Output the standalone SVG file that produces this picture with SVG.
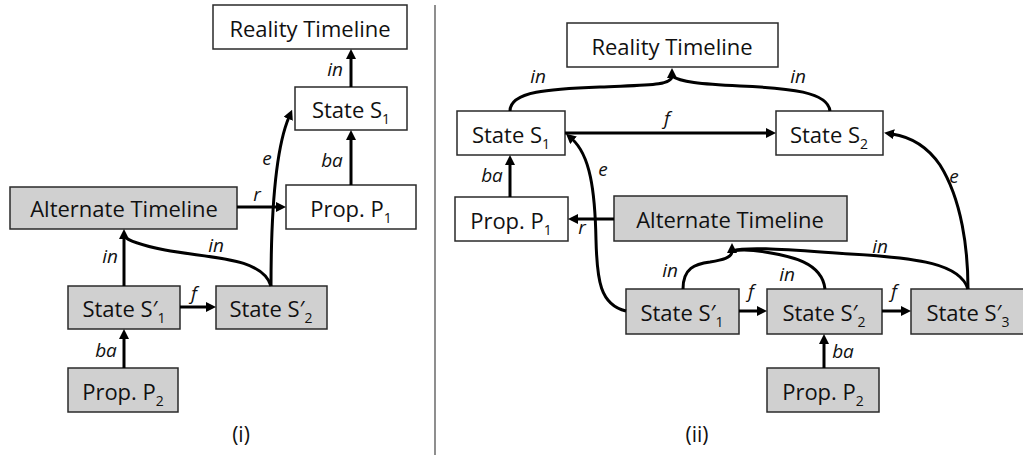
<svg xmlns="http://www.w3.org/2000/svg" xmlns:xlink="http://www.w3.org/1999/xlink" width="1023" height="462" viewBox="0 0 1023 462">
  <style>
    .box { fill: #ffffff; stroke: #2a2a2a; stroke-width: 1.5; }
    .alt { fill: #d0d0d0; stroke: #2a2a2a; stroke-width: 1.5; }
    .name { font-family: "Open Sans", "Liberation Sans", sans-serif; font-size: 22px; fill: #111; text-anchor: middle; }
    .sub { font-size: 14px; }
    .lbl { font-family: "Open Sans", "Liberation Sans", sans-serif; font-size: 19px; font-style: italic; fill: #111; text-anchor: middle; }
    .cap { font-family: "Open Sans", "Liberation Sans", sans-serif; font-size: 21px; fill: #111; text-anchor: middle; }
    .edge { fill: none; stroke: #000; stroke-width: 3; }
    .arrow { marker-end: url(#head); }
  </style>
  <defs>
    <marker id="head" viewBox="0 0 10 10" refX="2" refY="5" markerWidth="10" markerHeight="10" markerUnits="userSpaceOnUse" orient="auto">
      <path d="M0,0 L10,5 L0,10 z" fill="#000"/>
    </marker>
  </defs>

  <rect width="1023" height="462" fill="#ffffff"/>

  <!-- panel divider -->
  <line x1="435" y1="5" x2="435" y2="455" stroke="#444" stroke-width="1.2"/>

  <!-- ===== panel (i) ===== -->
  <g id="i-reality">
    <rect class="box" x="213" y="5" width="194" height="44"/>
    <text class="name" x="310" y="37">Reality Timeline</text>
  </g>
  <g id="i-state-s1">
    <rect class="box" x="295" y="87" width="112" height="43"/>
    <text class="name" x="351" y="118">State S<tspan class="sub" dy="6">1</tspan></text>
  </g>
  <g id="i-prop-p1">
    <rect class="box" x="286" y="185" width="130" height="44"/>
    <text class="name" x="351" y="217">Prop. P<tspan class="sub" dy="6">1</tspan></text>
  </g>
  <g id="i-alternate">
    <rect class="alt" x="10" y="187" width="227" height="42"/>
    <text class="name" x="124" y="217">Alternate Timeline</text>
  </g>
  <g id="i-state-s1p">
    <rect class="alt" x="68" y="286" width="112" height="43"/>
    <text class="name" x="124" y="317">State S′<tspan class="sub" dy="6">1</tspan></text>
  </g>
  <g id="i-state-s2p">
    <rect class="alt" x="216" y="286" width="111" height="43"/>
    <text class="name" x="271" y="317">State S′<tspan class="sub" dy="6">2</tspan></text>
  </g>
  <g id="i-prop-p2">
    <rect class="alt" x="68" y="368" width="110" height="44"/>
    <text class="name" x="123" y="400">Prop. P<tspan class="sub" dy="6">2</tspan></text>
  </g>

  <g id="i-edges">
    <path class="edge arrow" d="M351,87 V57"/>
    <path class="edge arrow" d="M351,185 V138"/>
    <path class="edge arrow" d="M237,207 H278"/>
    <path class="edge arrow" d="M271,286 C271,215 275,150 289,117"/>
    <path class="edge arrow" d="M124,286 V237"/>
    <path class="edge" d="M271,286 C262,256 205,258 165,250 C140,245 128,241 124,236"/>
    <path class="edge arrow" d="M180,307 H208"/>
    <path class="edge arrow" d="M124,368 V337"/>
  </g>
  <g id="i-labels">
    <text class="lbl" x="335" y="76">in</text>
    <text class="lbl" x="332" y="167">ba</text>
    <text class="lbl" x="267" y="165">e</text>
    <text class="lbl" x="257" y="201">r</text>
    <text class="lbl" x="110" y="263">in</text>
    <text class="lbl" x="216" y="252">in</text>
    <text class="lbl" x="194" y="300">f</text>
    <text class="lbl" x="106" y="357">ba</text>
  </g>
  <text class="cap" x="241" y="442">(i)</text>

  <!-- ===== panel (ii) ===== -->
  <g id="ii-reality">
    <rect class="box" x="567" y="23" width="211" height="44"/>
    <text class="name" x="672" y="55">Reality Timeline</text>
  </g>
  <g id="ii-state-s1">
    <rect class="box" x="457" y="111" width="108" height="44"/>
    <text class="name" x="511" y="143">State S<tspan class="sub" dy="6">1</tspan></text>
  </g>
  <g id="ii-state-s2">
    <rect class="box" x="776" y="111" width="107" height="44"/>
    <text class="name" x="829" y="143">State S<tspan class="sub" dy="6">2</tspan></text>
  </g>
  <g id="ii-prop-p1">
    <rect class="box" x="455" y="197" width="113" height="44"/>
    <text class="name" x="511" y="229">Prop. P<tspan class="sub" dy="6">1</tspan></text>
  </g>
  <g id="ii-alternate">
    <rect class="alt" x="614" y="196" width="233" height="45"/>
    <text class="name" x="730" y="228">Alternate Timeline</text>
  </g>
  <g id="ii-state-s1p">
    <rect class="alt" x="626" y="289" width="113" height="45"/>
    <text class="name" x="682" y="321">State S′<tspan class="sub" dy="6">1</tspan></text>
  </g>
  <g id="ii-state-s2p">
    <rect class="alt" x="767" y="289" width="115" height="45"/>
    <text class="name" x="824" y="321">State S′<tspan class="sub" dy="6">2</tspan></text>
  </g>
  <g id="ii-state-s3p">
    <rect class="alt" x="911" y="289" width="116" height="45"/>
    <text class="name" x="968" y="321">State S′<tspan class="sub" dy="6">3</tspan></text>
  </g>
  <g id="ii-prop-p2">
    <rect class="alt" x="767" y="368" width="112" height="44"/>
    <text class="name" x="823" y="400">Prop. P<tspan class="sub" dy="6">2</tspan></text>
  </g>

  <g id="ii-edges">
    <!-- in: both states join into the reality timeline -->
    <path class="edge arrow" d="M510,111 C510,91 550,89 600,87 C645,85 672,86 672,76"/>
    <path class="edge" d="M830,111 C828,92 790,88 740,86 C700,84 680,82 672,76"/>
    <path class="edge arrow" d="M565,133 H768"/>
    <path class="edge arrow" d="M510,197 V163"/>
    <path class="edge arrow" d="M614,219 H576"/>
    <!-- e: alternate states to the states they resemble -->
    <path class="edge arrow" d="M626,311 C600,305 597,280 596,240 C595,190 590,155 572,139"/>
    <path class="edge arrow" d="M968,289 C968,250 962,200 940,165 C925,143 905,136 892,134"/>
    <!-- in: alternate states join into the alternate timeline -->
    <path class="edge arrow" d="M683,289 C683,268 695,264 710,262 C722,260 732,258 732,251"/>
    <path class="edge" d="M825,289 C822,262 790,256 765,252 C748,249 737,250 732,251"/>
    <path class="edge" d="M968,289 C960,264 920,258 850,254 C790,250 748,246 732,251"/>
    <path class="edge arrow" d="M739,311 H759"/>
    <path class="edge arrow" d="M882,311 H903"/>
    <path class="edge arrow" d="M824,368 V342"/>
  </g>
  <g id="ii-labels">
    <text class="lbl" x="538" y="83">in</text>
    <text class="lbl" x="798" y="83">in</text>
    <text class="lbl" x="667" y="125">f</text>
    <text class="lbl" x="492" y="182">ba</text>
    <text class="lbl" x="603" y="176">e</text>
    <text class="lbl" x="582" y="234">r</text>
    <text class="lbl" x="954" y="183">e</text>
    <text class="lbl" x="670" y="277">in</text>
    <text class="lbl" x="787" y="281">in</text>
    <text class="lbl" x="880" y="253">in</text>
    <text class="lbl" x="751" y="298">f</text>
    <text class="lbl" x="894" y="298">f</text>
    <text class="lbl" x="843" y="358">ba</text>
  </g>
  <text class="cap" x="697" y="442">(ii)</text>
</svg>
